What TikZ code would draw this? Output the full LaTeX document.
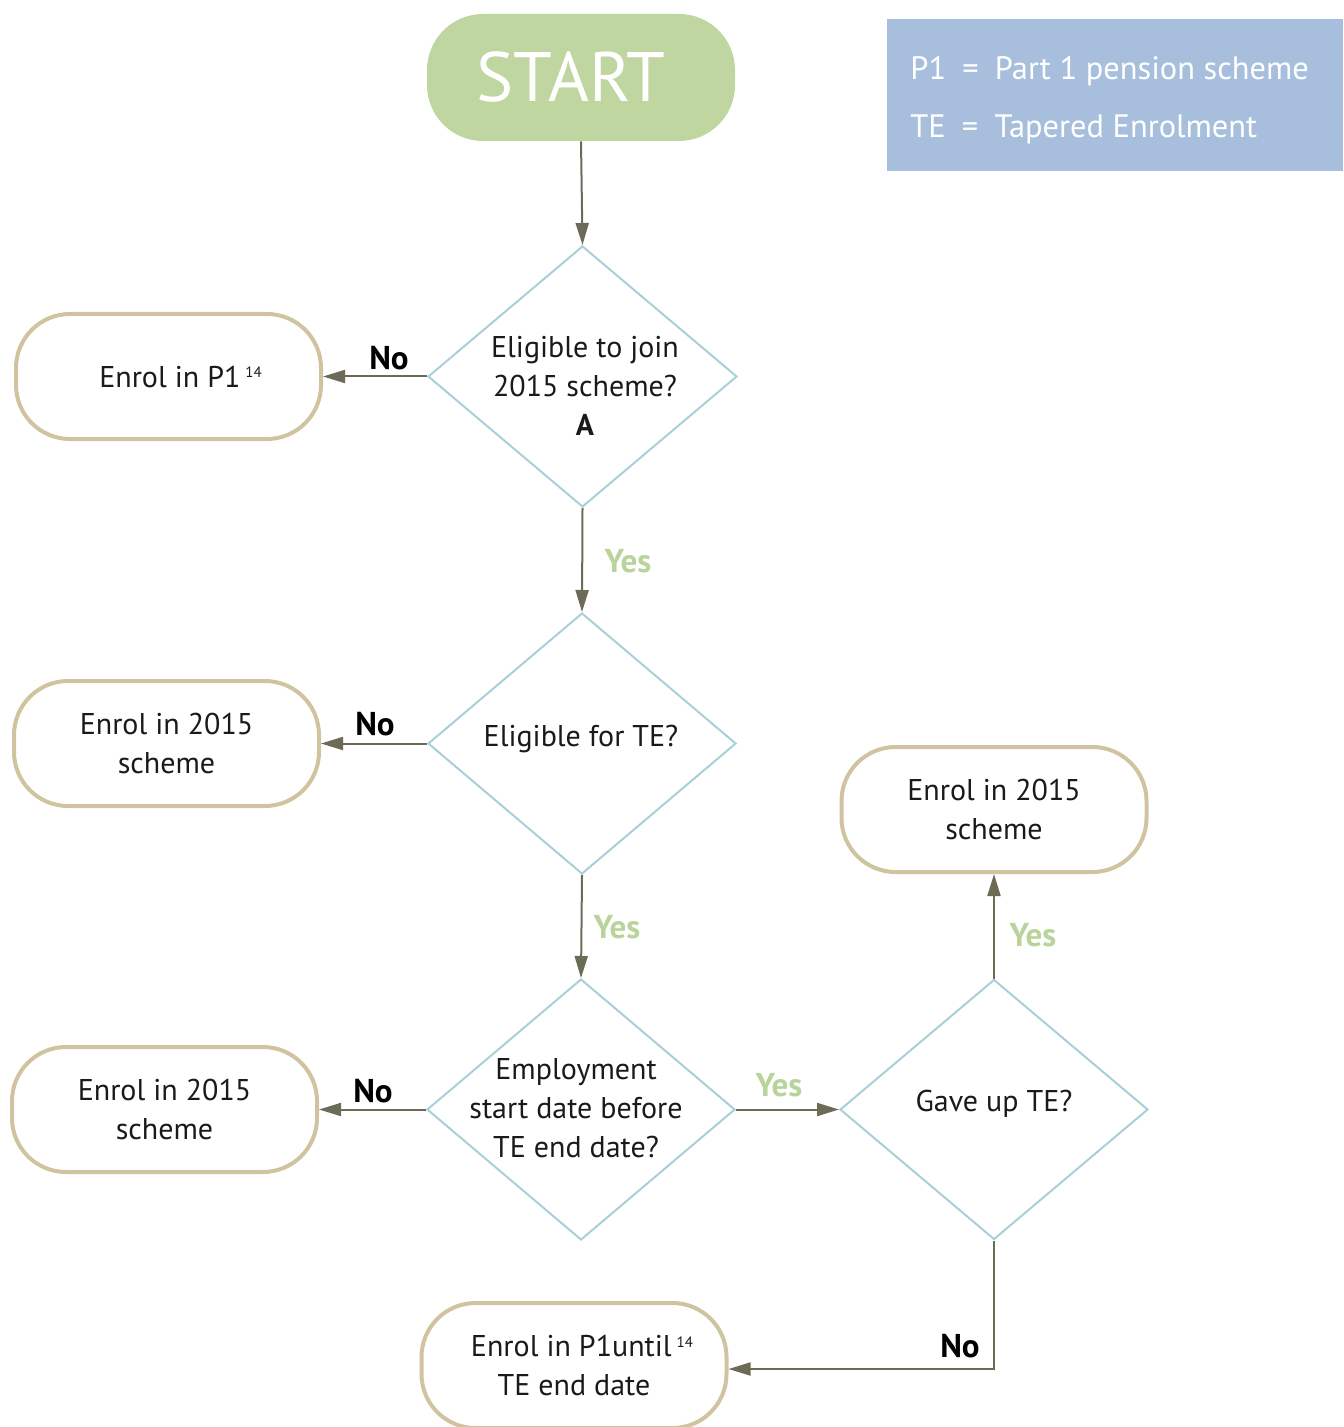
\documentclass[tikz,border=0pt]{standalone}
\usepackage{fontspec}
\setmainfont{PT Sans}
\usetikzlibrary{shapes.geometric,arrows.meta}

\definecolor{startgreen}{HTML}{BFD6A0}
\definecolor{legendblue}{HTML}{A7BFDD}
\definecolor{boxtan}{HTML}{CFC49F}
\definecolor{diamblue}{HTML}{A8D0D8}
\definecolor{flowline}{HTML}{6B6B58}
\definecolor{yesgreen}{HTML}{B9D49A}
\definecolor{bodytext}{HTML}{1A1A1A}

\newcommand{\fnref}[1]{\,\raisebox{4.6pt}{\fontsize{7.5}{9}\selectfont #1}}

\tikzset{
  bodyfont/.style={font=\fontsize{15}{19.5}\selectfont, text=bodytext},
  outcome/.style={bodyfont, draw=boxtan, line width=2pt, rounded corners=27pt,
    minimum width=152.5pt, minimum height=62.5pt, inner sep=0pt, align=center},
  decision/.style={diamond, draw=diamblue, line width=1pt, inner sep=0pt},
  qtext/.style={bodyfont, align=center, inner sep=0pt},
  flow/.style={draw=flowline, line width=1pt, -{Triangle[length=11pt,width=6.5pt]}},
  nolabel/.style={font=\bfseries\fontsize{16.5}{18}\selectfont, text=black, inner sep=0pt},
  yeslabel/.style={nolabel, text=yesgreen},
  legendtext/.style={anchor=base west, font=\fontsize{16.2}{19}\selectfont, text=white, inner sep=0pt},
}

\begin{document}
\begin{tikzpicture}[x=0.5pt,y=-0.5pt]
\useasboundingbox (0,0) rectangle (1343,1427);

% start terminal and legend
\node[fill=startgreen, rounded corners=28pt, minimum width=154pt, minimum height=63.5pt,
      font=\fontsize{35}{40}\selectfont, text=white, inner sep=0pt] (start) at (581,77.5) {START\hspace*{10pt}};
\node[fill=legendblue, minimum width=228pt, minimum height=76pt, inner sep=0pt] (legend) at (1115,95) {};
\node[legendtext] (leg1) at (910,80) {P1\enspace=\enspace Part 1 pension scheme};
\node[legendtext] (leg2) at (910,138) {TE\enspace=\enspace Tapered Enrolment};

% decisions
\node[decision, minimum width=154.5pt, minimum height=130.5pt] (d1) at (582.5,376.5) {};
\node[qtext] (d1t) at (585,386) {Eligible to join\\2015 scheme?\\\textbf{A}};
\node[decision, minimum width=154pt, minimum height=130.5pt] (d2) at (582,743.5) {};
\node[qtext] (d2t) at (581,739) {Eligible for TE?};
\node[decision, minimum width=154pt, minimum height=130.5pt] (d3) at (581,1109.5) {};
\node[qtext] (d3t) at (576,1108) {Employment\\start date before\\TE end date?};
\node[decision, minimum width=154pt, minimum height=130pt] (d4) at (994,1109.5) {};
\node[qtext] (d4t) at (994,1104) {Gave up TE?};

% outcomes
\node[outcome] (e1) at (168.5,376.5) {\hspace*{12pt}Enrol in P1\fnref{14}};
\node[outcome] (e2) at (166.5,743.5) {Enrol in 2015\\scheme};
\node[outcome] (e3) at (164.5,1109.5) {Enrol in 2015\\scheme};
\node[outcome] (e4) at (994,809.5) {Enrol in 2015\\scheme};
\node[outcome] (e5) at (574,1365.5) {\hspace*{8pt}Enrol in P1until\fnref{14}\\TE end date};

% connectors
\draw[flow] (start.south) -- (d1.north);
\draw[flow] (d1.west) -- (e1.east);
\draw[flow] (d1.south) -- (d2.north);
\draw[flow] (d2.west) -- (e2.east);
\draw[flow] (d2.south) -- (d3.north);
\draw[flow] (d3.west) -- (e3.east);
\draw[flow] (d3.east) -- (d4.west);
\draw[flow] (d4.north) -- (e4.south);
\draw[flow] (d4.south) |- ([yshift=-1.75pt]e5.east);

% branch labels
\node[nolabel] (no1) at (389,358) {No};
\node[yeslabel] (yes1) at (628,561) {Yes};
\node[nolabel] (no2) at (375,724) {No};
\node[yeslabel] (yes2) at (617,927) {Yes};
\node[nolabel] (no3) at (373,1091) {No};
\node[yeslabel] (yes3) at (779,1085) {Yes};
\node[yeslabel] (yes4) at (1033,935) {Yes};
\node[nolabel] (no4) at (960,1346) {No};
\end{tikzpicture}
\end{document}
